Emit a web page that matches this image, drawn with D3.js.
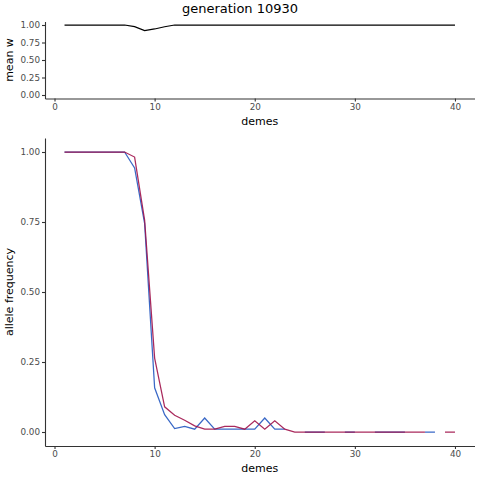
<!DOCTYPE html>
<html><head><meta charset="utf-8">
<script src="https://cdn.jsdelivr.net/npm/d3@7"></script>
<style>body{margin:0;background:#fff}svg{display:block}text{font-family:"DejaVu Sans",sans-serif}</style>
</head><body>
<script>
const demes = [1,2,3,4,5,6,7,8,9,10,11,12,13,14,15,16,17,18,19,20,21,22,23,24,25,26,27,28,29,30,31,32,33,34,35,36,37,38,39,40];
const meanW = [1,1,1,1,1,1,1,0.976,0.919,0.943,0.975,1,1,1,1,1,1,1,1,1,1,1,1,1,1,1,1,1,1,1,1,1,1,1,1,1,1,1,1,1];
const freqBlue = [1,1,1,1,1,1,1,0.943,0.745,0.158,0.062,0.012,0.02,0.01,0.05,0.01,0.01,0.01,0.01,0.01,0.05,0.01,0.01,null,0,0,0,null,0,0,null,0,0,0,0,null,0,0,null,null];
const freqRed = [1,1,1,1,1,1,1,0.982,0.757,0.264,0.09,0.06,0.042,0.022,0.01,0.01,0.02,0.02,0.01,0.04,0.01,0.04,0.01,0,0,0,0,0,0,0,0,0,0,0,0,0,0,null,0,0];
const xTicks = [0,10,20,30,40];
const wTicks = [0,0.25,0.5,0.75,1];
const fTicks = [0,0.25,0.5,0.75,1];
const titleText = "generation 10930";

const W = 480, H = 480;
const svg = d3.select("body").append("svg").attr("width", W).attr("height", H);
const tickCol = "#4d4d4d", axisCol = "#333";

function panel(top, bottom, values, series, yTitle) {
  const x = d3.scaleLinear().domain([-0.95, 41.95]).range([45, 474.5]);
  const y = d3.scaleLinear().domain([-0.05, 1.05]).range([bottom, top]);
  const g = svg.append("g");
  const ax = g.append("g").attr("transform", `translate(0,${bottom})`)
    .call(d3.axisBottom(x).tickValues(xTicks).tickFormat(d3.format("d")).tickSize(3).tickSizeOuter(0).tickPadding(2));
  const ay = g.append("g").attr("transform", `translate(45,0)`)
    .call(d3.axisLeft(y).tickValues(values).tickFormat(d3.format(".2f")).tickSize(3).tickSizeOuter(0).tickPadding(2));
  [ax, ay].forEach(a => {
    a.select(".domain").attr("stroke", axisCol).attr("stroke-width", 1.1);
    a.selectAll(".tick line").attr("stroke", axisCol).attr("stroke-width", 1.1);
    a.selectAll(".tick text").attr("fill", tickCol).style("font-size", "8.8px").style("font-family", '"DejaVu Sans", sans-serif');
  });
  series.forEach(s => {
    const line = d3.line().defined((d,i) => s.vals[i] !== null)
      .x((d,i) => x(demes[i])).y((d,i) => y(s.vals[i]));
    g.append("path").datum(demes).attr("d", line).attr("fill", "none")
      .attr("stroke", s.color).attr("stroke-width", 1.25).attr("stroke-opacity", s.op || 1);
  });
  g.append("text").attr("x", (45 + 474.5) / 2).attr("y", bottom + 26).attr("text-anchor", "middle")
    .style("font-size", "11px").text("demes");
  g.append("text").attr("transform", `translate(13,${(top + bottom) / 2}) rotate(-90)`)
    .attr("text-anchor", "middle").style("font-size", "11px").text(yTitle);
}

svg.append("text").attr("x", 240).attr("y", 13).attr("text-anchor", "middle")
  .style("font-size", "13px").text(titleText);

panel(21.5, 98.5, wTicks, [{vals: meanW, color: "#000"}], "mean w");
panel(138, 446, fTicks, [
  {vals: freqBlue, color: "#2458c0", op: 0.9},
  {vals: freqRed, color: "#a0124a", op: 0.9}
], "allele frequency");
</script>
</body></html>
